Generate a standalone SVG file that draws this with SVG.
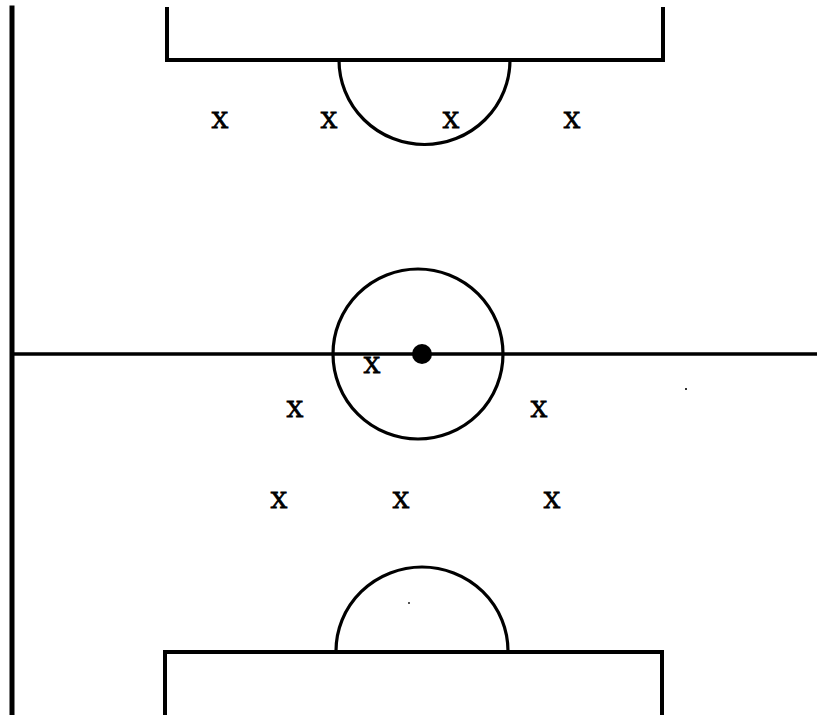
<svg xmlns="http://www.w3.org/2000/svg" width="817" height="715" viewBox="0 0 817 715">
<style>
.ln{fill:none;stroke:#000;stroke-width:4;stroke-linecap:square;stroke-linejoin:miter}
.th{fill:none;stroke:#000;stroke-width:3.2}
.x{font-family:"DejaVu Serif",serif;font-size:23px;text-anchor:middle;fill:#000;stroke:#000;stroke-width:0.8}
</style>
<rect width="817" height="715" fill="#fff"/>
<g id="field">
<line class="ln" x1="12" y1="8" x2="12" y2="715" style="stroke-width:5"/>
<line class="ln" x1="12" y1="354" x2="817" y2="354" style="stroke-width:3.5"/>
<polyline class="ln" points="167,9 167,60 663,60 663,9"/>
<polyline class="ln" points="165,715 165,652 662,652 662,715"/>
<path class="th" d="M339,60 A85,84 0 0 0 510,60"/>
<path class="th" d="M336,651 A86,84 0 0 1 508,651"/>
<circle class="th" cx="418" cy="354" r="85"/>
<circle cx="422" cy="354" r="10" fill="#000"/>
<rect x="685" y="388" width="2" height="2" fill="#333"/>
<rect x="408" y="602" width="2" height="2" fill="#555"/>
</g>
<g id="players">
<text class="x" x="220" y="128">X</text>
<text class="x" x="329" y="128">X</text>
<text class="x" x="451" y="128">X</text>
<text class="x" x="572" y="128">X</text>
<text class="x" x="372" y="373">X</text>
<text class="x" x="295" y="417">X</text>
<text class="x" x="539" y="417">X</text>
<text class="x" x="279" y="508">X</text>
<text class="x" x="401" y="508">X</text>
<text class="x" x="552" y="508">X</text>
</g>
</svg>
